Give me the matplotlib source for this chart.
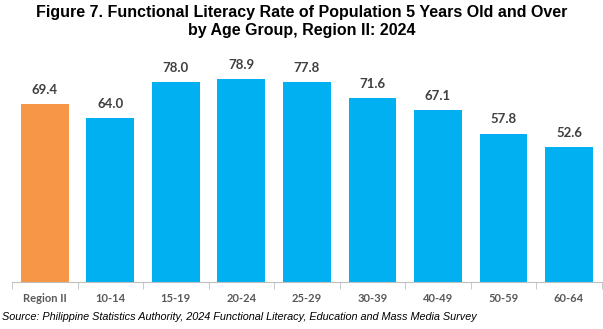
import matplotlib.pyplot as plt

groups = ["Region II", "10-14", "15-19", "20-24", "25-29", "30-39", "40-49", "50-59", "60-64"]
rates = [69.4, 64.0, 78.0, 78.9, 77.8, 71.6, 67.1, 57.8, 52.6]
bar_colors = ["#F79646"] + ["#00B0F0"] * 8

fig = plt.figure(figsize=(6.03, 3.29), dpi=100)
ax = fig.add_axes([0.02, 0.143, 0.978, 0.663])

x = range(len(groups))
bars = ax.bar(x, rates, width=0.73, color=bar_colors)
for b, v in zip(bars, rates):
    ax.text(b.get_x() + b.get_width() / 2, v + 3.2, f"{v:.1f}", ha="center", va="bottom",
            fontsize=9.5, fontweight="bold", color="#404040", family="Lato")

ax.set_xlim(-0.5, len(groups) - 0.5)
ax.set_ylim(0, 85)
ax.set_yticks([])
for s in ["top", "right", "left"]:
    ax.spines[s].set_visible(False)
ax.spines["bottom"].set_color("#BFBFBF")
ax.set_xticks(list(x))
ax.set_xticklabels(groups, fontsize=8, fontweight="bold", color="#595959", family="Lato")
ax.tick_params(axis="x", length=0, pad=8)
ax.set_xticks([i + 0.5 for i in range(-1, len(groups))], minor=True)
ax.tick_params(axis="x", which="minor", length=5, color="#BFBFBF")

fig.text(0.5, 0.985, "Figure 7. Functional Literacy Rate of Population 5 Years Old and Over\nby Age Group, Region II: 2024",
         ha="center", va="top", fontsize=11.5, fontweight="bold", family="Liberation Sans",
         linespacing=1.25)
fig.text(0.003, 0.035, "Source: Philippine Statistics Authority, 2024 Functional Literacy, Education and Mass Media Survey",
         ha="left", va="center", fontsize=7.8, style="italic", family="Liberation Sans")

fig.savefig("out.png", dpi=100)
